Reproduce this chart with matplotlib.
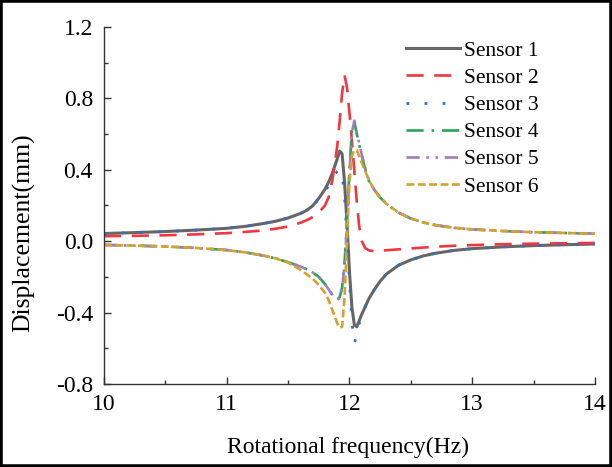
import matplotlib
matplotlib.use('Agg')
import matplotlib.pyplot as plt
from matplotlib.patches import Rectangle
from matplotlib.ticker import MultipleLocator, FormatStrFormatter

# Rotational frequency (Hz), denser near the resonance at ~12 Hz
freq = [10.0, 10.25, 10.5, 10.75, 11.0, 11.15, 11.3, 11.4, 11.5, 11.6,
        11.65, 11.7, 11.75, 11.8, 11.83, 11.86, 11.88, 11.9, 11.92, 11.94,
        11.96, 11.98, 12.0, 12.02, 12.04, 12.06, 12.08, 12.1, 12.13, 12.16,
        12.2, 12.25, 12.3, 12.4, 12.5, 12.6, 12.7, 12.85, 13.0, 13.25,
        13.5, 13.75, 14.0]

# Displacement (mm)
sensor1 = [0.043, 0.048, 0.054, 0.062, 0.072, 0.083, 0.099, 0.112, 0.13, 0.155,
           0.172, 0.198, 0.24, 0.29, 0.33, 0.38, 0.42, 0.46, 0.505, 0.49,
           0.33, 0.10, -0.17, -0.37, -0.47, -0.48, -0.445, -0.41, -0.365, -0.32,
           -0.275, -0.225, -0.185, -0.135, -0.105, -0.083, -0.068, -0.052, -0.042, -0.032,
           -0.025, -0.02, -0.016]
sensor2 = [0.028, 0.03, 0.033, 0.038, 0.045, 0.052, 0.06, 0.07, 0.082, 0.103,
           0.117, 0.135, 0.16, 0.20, 0.245, 0.34, 0.43, 0.53, 0.67, 0.83,
           0.93, 0.86, 0.72, 0.56, 0.39, 0.22, 0.08, 0.0, -0.04, -0.052,
           -0.056, -0.054, -0.051, -0.046, -0.041, -0.036, -0.031, -0.026, -0.022, -0.017,
           -0.014, -0.012, -0.01]
sensor3 = [0.043, 0.048, 0.054, 0.062, 0.072, 0.083, 0.099, 0.112, 0.13, 0.155,
           0.172, 0.198, 0.235, 0.28, 0.31, 0.35, 0.375, 0.39, 0.40, 0.38,
           0.25, 0.02, -0.22, -0.45, -0.57, -0.53, -0.46, -0.415, -0.365, -0.32,
           -0.275, -0.225, -0.185, -0.135, -0.105, -0.083, -0.068, -0.052, -0.042, -0.032,
           -0.025, -0.02, -0.016]
sensor4 = [-0.021, -0.025, -0.03, -0.038, -0.05, -0.063, -0.081, -0.097, -0.118, -0.142,
           -0.157, -0.175, -0.20, -0.24, -0.27, -0.30, -0.315, -0.325, -0.315, -0.26,
           -0.12, 0.10, 0.40, 0.62, 0.67, 0.60, 0.54, 0.48, 0.40, 0.335,
           0.29, 0.245, 0.21, 0.16, 0.127, 0.105, 0.09, 0.075, 0.066, 0.057,
           0.05, 0.046, 0.042]
sensor5 = [-0.021, -0.025, -0.03, -0.038, -0.05, -0.063, -0.081, -0.097, -0.118, -0.142,
           -0.157, -0.175, -0.20, -0.24, -0.27, -0.30, -0.318, -0.328, -0.32, -0.27,
           -0.13, 0.08, 0.38, 0.61, 0.675, 0.61, 0.545, 0.485, 0.405, 0.338,
           0.29, 0.245, 0.21, 0.16, 0.127, 0.105, 0.09, 0.075, 0.066, 0.057,
           0.05, 0.046, 0.042]
sensor6 = [-0.021, -0.025, -0.03, -0.038, -0.05, -0.063, -0.081, -0.097, -0.12, -0.16,
           -0.185, -0.21, -0.245, -0.29, -0.33, -0.385, -0.42, -0.46, -0.485, -0.48,
           -0.32, 0.0, 0.33, 0.48, 0.51, 0.51, 0.475, 0.44, 0.39, 0.34,
           0.29, 0.245, 0.21, 0.16, 0.127, 0.105, 0.09, 0.075, 0.066, 0.057,
           0.05, 0.046, 0.042]

labels = ['Sensor 1', 'Sensor 2', 'Sensor 3', 'Sensor 4', 'Sensor 5', 'Sensor 6']

plt.rcParams['font.family'] = ['Liberation Serif', 'DejaVu Serif']

fig = plt.figure(figsize=(6.12, 4.67), dpi=100)
ax = fig.add_axes([0.170, 0.178, 0.802, 0.764])

series = [sensor1, sensor2, sensor3, sensor4, sensor5, sensor6]
colors = ['#666666', '#F0363E', '#3A6BBE', '#26A65A', '#A27BC2', '#D4A22E']
styles = ['-', (0, (6.5, 4)), (0, (1, 5.5)), (0, (6.5, 3, 1, 3)),
          (0, (5, 2.5, 1, 2.5, 1, 2.5)), (0, (3, 1.3))]
widths = [2.2, 1.9, 2.0, 1.9, 1.9, 1.9]

for y, lab, c, ls, lw in zip(series, labels, colors, styles, widths):
    ax.plot(freq, y, color=c, linestyle=ls, linewidth=lw, label=lab)

ax.set_xlim(10, 14)
ax.set_ylim(-0.8, 1.2)
ax.xaxis.set_major_locator(MultipleLocator(1))
ax.xaxis.set_minor_locator(MultipleLocator(0.5))
ax.yaxis.set_major_locator(MultipleLocator(0.4))
ax.yaxis.set_minor_locator(MultipleLocator(0.2))
ax.yaxis.set_major_formatter(FormatStrFormatter('%.1f'))

ax.spines['top'].set_visible(False)
ax.spines['right'].set_visible(False)
for s in ['left', 'bottom']:
    ax.spines[s].set_linewidth(1.0)
    ax.spines[s].set_color('#333333')

ax.tick_params(which='major', direction='in', length=5, width=1.0,
               color='#333333', labelsize=17)
ax.tick_params(which='minor', direction='in', length=3, width=1.0, color='#333333')
ax.tick_params(axis='x', pad=7)
ax.tick_params(axis='y', pad=8)

ax.set_xlabel('Rotational frequency(Hz)', fontsize=17)
ax.xaxis.set_label_coords(0.497, -0.148)
ax.set_ylabel('Displacement(mm)', fontsize=18.5)
ax.yaxis.set_label_coords(-0.14, 0.424)

ax.legend(loc='upper left', bbox_to_anchor=(0.615, 0.962), frameon=False,
          fontsize=15.5, handlelength=2.5, handletextpad=0.2, labelspacing=0.33,
          borderpad=0, borderaxespad=0)

# Border around the whole figure
fig.patches.append(Rectangle((0, 0), 1, 1, transform=fig.transFigure,
                             fill=False, edgecolor='black', linewidth=4))

fig.savefig('out.png', dpi=100)
